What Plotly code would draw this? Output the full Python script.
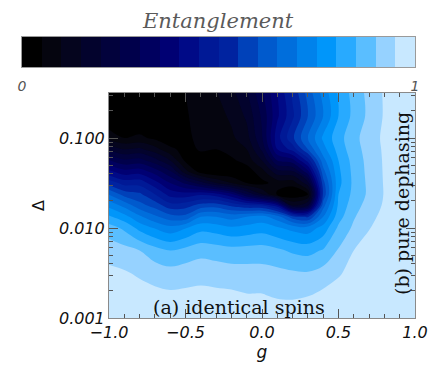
import numpy as np
import plotly.graph_objects as go

# ---- data ----
g_values = [round(-1.0 + 0.1 * i, 1) for i in range(21)]
log_delta = [-3.0, -2.75, -2.5, -2.25, -2.0, -1.875, -1.75, -1.625, -1.5,
             -1.375, -1.25, -1.125, -1.0, -0.75, -0.5]

# entanglement columns (one per g value), rows from small to large Delta
ent_columns = [
    [0.995, 0.98, 0.962, 0.929, 0.8725, 0.808, 0.736, 0.645, 0.53, 0.415, 0.305, 0.19, 0.08, 0.0, 0.0],
    [0.995, 0.975, 0.955, 0.918, 0.84, 0.77, 0.684, 0.58, 0.48, 0.37, 0.26, 0.15, 0.05, 0.0, 0.0],
    [0.995, 0.97, 0.943, 0.9, 0.784, 0.709, 0.62, 0.56, 0.48, 0.38, 0.27, 0.16, 0.06, 0.0, 0.0],
    [0.995, 0.965, 0.929, 0.87, 0.746, 0.66, 0.58, 0.50, 0.42, 0.33, 0.22, 0.12, 0.04, 0.0, 0.0],
    [0.995, 0.96, 0.92, 0.85, 0.718, 0.62, 0.52, 0.43, 0.35, 0.26, 0.15, 0.06, 0.02, 0.0, 0.01],
    [0.995, 0.962, 0.926, 0.866, 0.747, 0.615, 0.53, 0.42, 0.29, 0.12, 0.04, 0.035, 0.04, 0.045, 0.05],
    [0.995, 0.965, 0.931, 0.883, 0.784, 0.70, 0.57, 0.44, 0.22, 0.03, 0.03, 0.055, 0.062, 0.068, 0.075],
    [0.995, 0.962, 0.927, 0.876, 0.775, 0.70, 0.58, 0.42, 0.15, 0.005, 0.025, 0.05, 0.06, 0.08, 0.097],
    [0.995, 0.96, 0.922, 0.868, 0.758, 0.68, 0.54, 0.36, 0.10, 0.005, 0.04, 0.07, 0.09, 0.11, 0.133],
    [0.995, 0.953, 0.92, 0.87, 0.7675, 0.70, 0.51, 0.25, 0.05, 0.02, 0.07, 0.1, 0.13, 0.16, 0.194],
    [0.99, 0.953, 0.918, 0.873, 0.7775, 0.718, 0.50, 0.15, 0.035, 0.08, 0.15, 0.21, 0.245, 0.26, 0.29],
    [0.985, 0.944, 0.914, 0.86, 0.757, 0.672, 0.42, 0.04, 0.07, 0.18, 0.3, 0.40, 0.43, 0.39, 0.40],
    [0.985, 0.942, 0.907, 0.841, 0.734, 0.572, 0.15, 0.005, 0.07, 0.19, 0.33, 0.47, 0.54, 0.49, 0.51],
    [0.985, 0.948, 0.904, 0.833, 0.722, 0.543, 0.2, 0.05, 0.18, 0.33, 0.47, 0.6, 0.65, 0.6, 0.62],
    [0.99, 0.963, 0.92, 0.855, 0.77, 0.70, 0.63, 0.56, 0.58, 0.63, 0.68, 0.73, 0.76, 0.70, 0.72],
    [0.99, 0.97, 0.945, 0.905, 0.86, 0.83, 0.81, 0.80, 0.785, 0.79, 0.8, 0.82, 0.83, 0.80, 0.807],
    [0.995, 0.98, 0.965, 0.95, 0.91, 0.895, 0.88, 0.865, 0.862, 0.865, 0.87, 0.88, 0.885, 0.865, 0.87],
    [0.997, 0.99, 0.98, 0.965, 0.948, 0.935, 0.92, 0.91, 0.912, 0.915, 0.917, 0.92, 0.925, 0.912, 0.915],
    [0.998, 0.994, 0.988, 0.98, 0.972, 0.965, 0.957, 0.953, 0.954, 0.955, 0.956, 0.958, 0.96, 0.955, 0.956],
    [0.999, 0.997, 0.994, 0.99, 0.985, 0.982, 0.978, 0.975, 0.975, 0.975, 0.976, 0.977, 0.978, 0.975, 0.975],
    [1.0, 0.999, 0.998, 0.996, 0.993, 0.99, 0.988, 0.986, 0.986, 0.987, 0.988, 0.988, 0.989, 0.988, 0.988],
]

band_colors = [
    "#000000", "#05050f", "#05051e", "#03032d", "#02023c", "#00004b",
    "#00005f", "#000073", "#000a87", "#001996", "#0023a0", "#0041b9",
    "#005acd", "#006edc", "#0082eb", "#0096fa", "#28aaff", "#5abeff",
    "#96d2ff", "#c8e8ff",
]
level_step = 0.05

y_tick_vals = [0.001, 0.01, 0.1]
y_tick_text = ["0.001", "0.010", "0.100"]
x_tick_vals = [-1.0, -0.5, 0.0, 0.5, 1.0]
x_tick_text = ["\u22121.0", "\u22120.5", "0.0", "0.5", "1.0"]
cbar_tick_vals = [0, 1]
cbar_tick_text = ["0", "1"]

# ---- figure ----
delta = [10 ** v for v in log_delta]
z = np.array(ent_columns).T

n = len(band_colors)
colorscale = [[0.0, band_colors[0]]]
for k, c in enumerate(band_colors, start=1):
    colorscale.append([k / (n + 1), c])
colorscale.append([1.0, band_colors[-1]])

# band mid values used for the colour key
band_mids = [level_step * (k + 0.5) for k in range(n)]

W, H = 436, 374

def fx(px):
    return px / W

def fy(py):
    return (H - py) / H

fig = go.Figure()
fig.add_trace(go.Contour(
    x=g_values, y=delta, z=z,
    colorscale=colorscale, showscale=False,
    contours=dict(start=0.0, end=1.0, size=level_step, coloring="fill", showlines=False),
    line=dict(width=0, smoothing=1),
    hoverinfo="skip",
    xaxis="x", yaxis="y",
))
# colour key (same colour mapping as the contour fill)
fig.add_trace(go.Heatmap(
    x=band_mids, y=[0], z=[band_mids],
    colorscale=colorscale, zmin=-level_step / 2, zmax=1 + level_step / 2,
    showscale=False, hoverinfo="skip",
    xaxis="x2", yaxis="y2",
))

axis_font = dict(family="DejaVu Sans", size=16, style="italic", color="#111")
tick_common = dict(ticks="inside", ticklen=9, tickcolor="#555", tickwidth=1,
                   showline=True, linecolor="#8a8a8a", linewidth=1, mirror="ticks",
                   showgrid=False, zeroline=False, tickfont=axis_font)
minor_y = [m * 10 ** e for e in (-3, -2, -1) for m in range(2, 10) if m * 10 ** e < 0.32]

fig.update_layout(
    width=W, height=H, autosize=False,
    margin=dict(l=0, r=0, t=0, b=0, pad=0, autoexpand=False),
    paper_bgcolor="white", plot_bgcolor="white",
    showlegend=False,
    xaxis=dict(domain=[fx(109), fx(415)], anchor="y",
               range=[-1, 1], tickvals=x_tick_vals, ticktext=x_tick_text,
               minor=dict(ticks="inside", ticklen=4, dtick=0.1, tickcolor="#555"),
               title=dict(text="g", font=dict(family="DejaVu Sans", size=17, style="italic", color="#111"),
                          standoff=4),
               **tick_common),
    yaxis=dict(domain=[fy(318), fy(93)], anchor="x",
               type="log", range=[-3, -0.5], tickvals=y_tick_vals, ticktext=y_tick_text,
               minor=dict(ticks="inside", ticklen=4, tickvals=minor_y, tickcolor="#555"),
               title=dict(text="\u0394", font=dict(family="DejaVu Sans", size=16, color="#111"),
                          standoff=10),
               **tick_common),
    xaxis2=dict(domain=[fx(22), fx(415)], anchor="y2", range=[0, 1],
                tickvals=cbar_tick_vals, ticktext=cbar_tick_text,
                ticks="outside", ticklen=6, tickcolor="rgba(0,0,0,0)",
                tickfont=dict(family="DejaVu Sans", size=14, style="italic", color="#555"),
                showline=True, linecolor="#9a9a9a", mirror=True,
                showgrid=False, zeroline=False, fixedrange=True),
    yaxis2=dict(domain=[fy(67), fy(37)], anchor="x2", range=[-0.5, 0.5],
                showticklabels=False, ticks="",
                showline=True, linecolor="#9a9a9a", mirror=True,
                showgrid=False, zeroline=False, fixedrange=True),
)

fig.add_annotation(text="(a) identical spins", x=fx(239), y=fy(307),
                   xref="paper", yref="paper", showarrow=False,
                   xanchor="center", yanchor="middle",
                   font=dict(family="DejaVu Serif", size=19, color="#111"))
fig.add_annotation(text="(b) pure dephasing", x=fx(402), y=fy(204),
                   xref="paper", yref="paper", showarrow=False, textangle=-90,
                   xanchor="center", yanchor="middle",
                   font=dict(family="DejaVu Serif", size=19, color="#111"))
fig.add_annotation(text="Entanglement", x=fx(218.5), y=fy(21),
                   xref="paper", yref="paper", showarrow=False,
                   xanchor="center", yanchor="middle",
                   font=dict(family="DejaVu Serif", size=21, style="italic", color="#5a5a5a"))

fig.write_html("out.html",
               config={"displayModeBar": False},
               post_script="document.body.style.margin='0px';document.body.style.overflow='hidden';")
